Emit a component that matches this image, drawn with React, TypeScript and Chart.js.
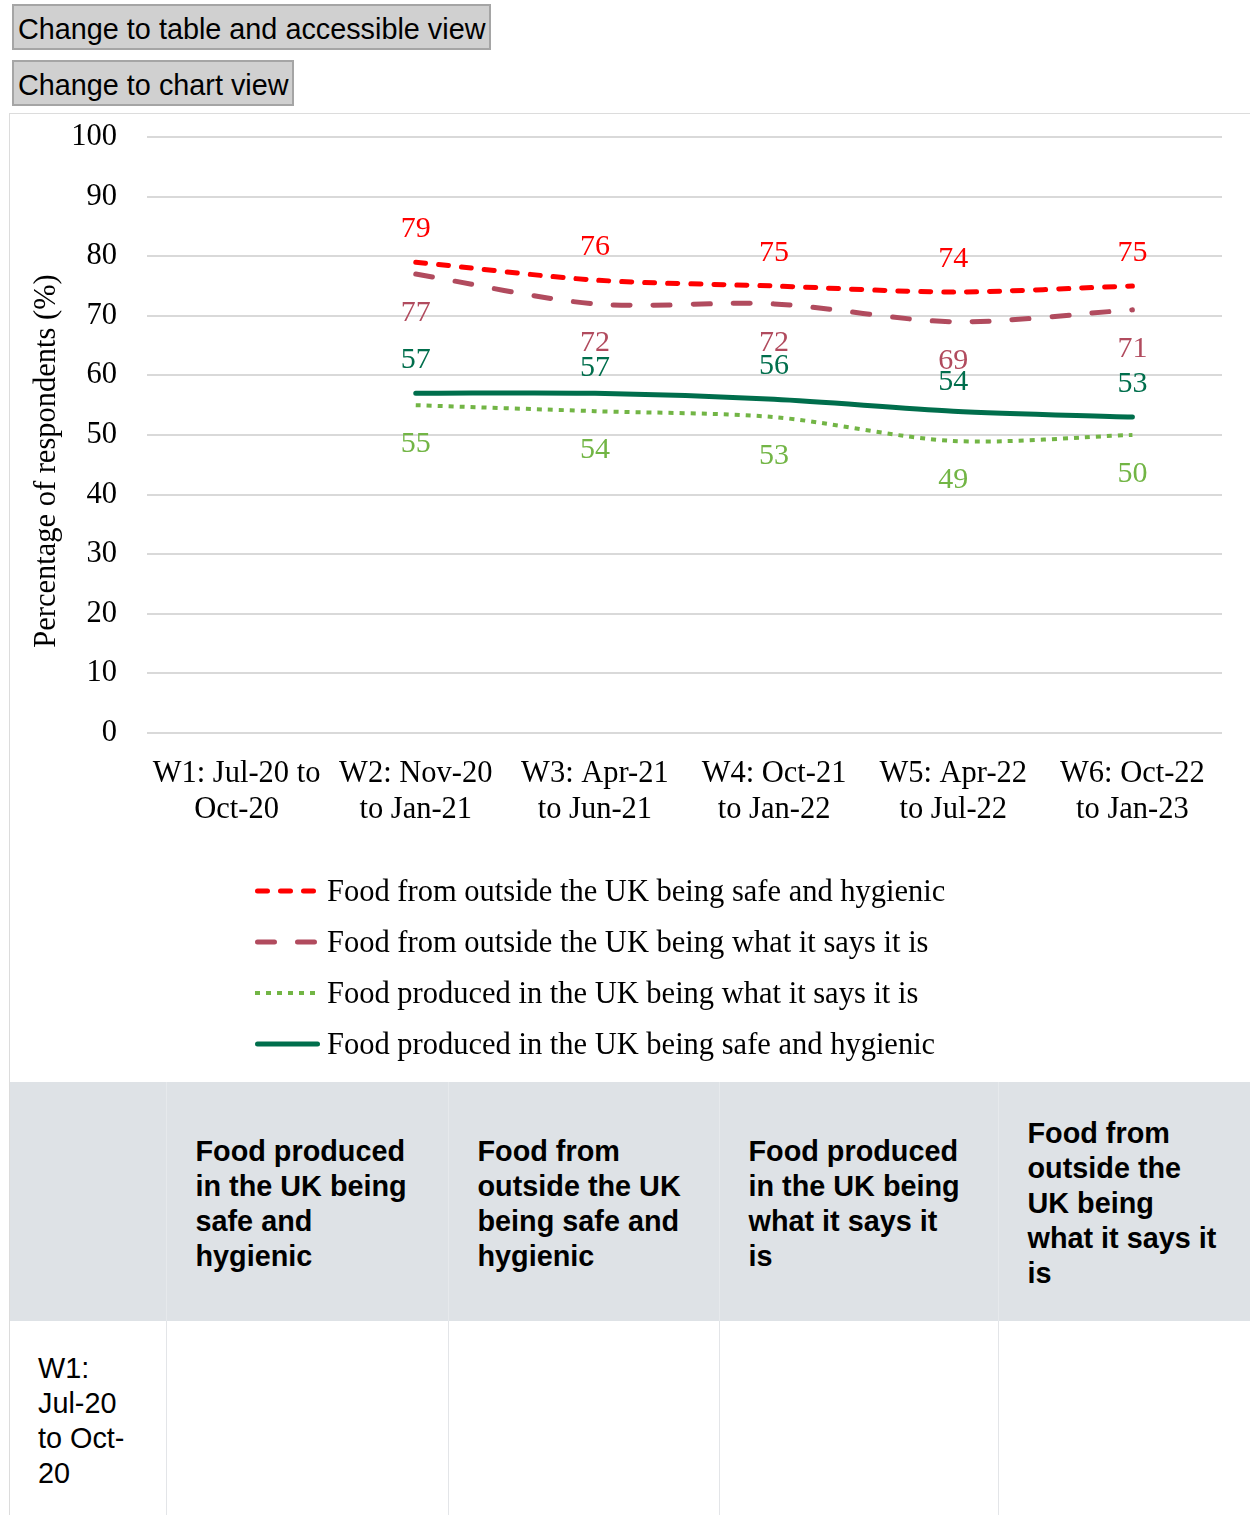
import React, { useEffect, useRef } from "react";
import { Chart, registerables } from "chart.js";
Chart.register(...registerables);

// ---------- data ----------
const categories: string[][] = [
  ["W1: Jul-20 to", "Oct-20"],
  ["W2: Nov-20", "to Jan-21"],
  ["W3: Apr-21", "to Jun-21"],
  ["W4: Oct-21", "to Jan-22"],
  ["W5: Apr-22", "to Jul-22"],
  ["W6: Oct-22", "to Jan-23"],
];
const seriesNames = [
  "Food from outside the UK being safe and hygienic",
  "Food from outside the UK being what it says it is",
  "Food produced in the UK being what it says it is",
  "Food produced in the UK being safe and hygienic",
];
const outsideSafe = [null, 79, 76, 75, 74, 75];
const outsideSays = [null, 77, 72, 72, 69, 71];
const ukSays = [null, 55, 54, 53, 49, 50];
const ukSafe = [null, 57, 57, 56, 54, 53];
const yMin = 0;
const yMax = 100;
const yStep = 10;
const yTitle = "Percentage of respondents (%)";
const buttonLabels = ["Change to table and accessible view", "Change to chart view"];
const tableHeaders = [
  "",
  "Food produced in the UK being safe and hygienic",
  "Food from outside the UK being safe and hygienic",
  "Food produced in the UK being what it says it is",
  "Food from outside the UK being what it says it is",
];
const tableRowLabels = ["W1: Jul-20 to Oct-20"];

// ---------- styles ----------
const colors = ["#ff0000", "#b14b5e", "#72b545", "#006e4c"];
const dashes = [[10, 13], [17, 23], [5, 6], []];
const caps = ["round", "round", "butt", "round"];
const widths = [5, 5, 4, 5];
const labelOffsets = [-25, 47, 47, -25];
// small per-label nudges (label collision avoidance in the original)
const labelNudges = [
  [0, 0, 0, 0, 0, 0],
  [0, 0, 0, 0, 0, 0],
  [0, 0, 0, 0, 0, 0],
  [0, 0, 8, 0, 4, 0],
];
const SERIF = '"Liberation Serif", "Times New Roman", serif';
const SANS = '"Liberation Sans", Arial, sans-serif';
const FS = 30.5;

const overlayPlugin = {
  id: "overlay",
  afterDatasetsDraw(chart: any) {
    const ctx = chart.ctx;
    ctx.save();
    // data labels
    chart.data.datasets.forEach((ds: any, i: number) => {
      const meta = chart.getDatasetMeta(i);
      ctx.font = `30px ${SERIF}`;
      ctx.fillStyle = ds.borderColor;
      ctx.textAlign = "center";
      ctx.textBaseline = "alphabetic";
      meta.data.forEach((pt: any, j: number) => {
        const v = ds.data[j];
        if (v == null) return;
        ctx.fillText(String(v), pt.x, pt.y + labelOffsets[i] + labelNudges[i][j]);
      });
    });
    // legend
    const top = 777;
    const step = 51;
    chart.data.datasets.forEach((ds: any, i: number) => {
      const y = top + i * step;
      ctx.beginPath();
      ctx.setLineDash(ds.borderDash || []);
      ctx.lineCap = ds.borderCapStyle;
      ctx.lineWidth = ds.borderWidth;
      ctx.strokeStyle = ds.borderColor;
      const inset = ds.borderCapStyle === "round" ? ds.borderWidth / 2 : 0;
      ctx.moveTo(245 + inset, y);
      ctx.lineTo(310 - inset, y);
      ctx.stroke();
      ctx.setLineDash([]);
      ctx.font = `${FS}px ${SERIF}`;
      ctx.fillStyle = "#000";
      ctx.textAlign = "left";
      ctx.textBaseline = "alphabetic";
      ctx.fillText(ds.label, 317, y + 10);
    });
    // y title
    ctx.translate(37, 347);
    ctx.rotate(-Math.PI / 2);
    ctx.font = `${FS}px ${SERIF}`;
    ctx.fillStyle = "#000";
    ctx.textAlign = "center";
    ctx.textBaseline = "middle";
    ctx.fillText(yTitle, 0, 0);
    ctx.restore();
  },
};

function LineChart() {
  const ref = useRef<HTMLCanvasElement | null>(null);
  useEffect(() => {
    if (!ref.current) return;
    const series = [outsideSafe, outsideSays, ukSays, ukSafe];
    const chart = new Chart(ref.current, {
      type: "line",
      data: {
        labels: categories as any,
        datasets: series.map((d, i) => ({
          label: seriesNames[i],
          data: d as any,
          borderColor: colors[i],
          backgroundColor: colors[i],
          borderDash: dashes[i],
          borderCapStyle: caps[i] as any,
          borderWidth: widths[i],
          pointRadius: 0,
          pointHoverRadius: 0,
          tension: 0.3,
          fill: false,
        })),
      },
      options: {
        responsive: false,
        animation: false,
        events: [],
        layout: { padding: { top: 23, right: 28, left: 0, bottom: 0 } },
        plugins: { legend: { display: false }, tooltip: { enabled: false }, title: { display: false } },
        scales: {
          x: {
            offset: true,
            grid: { display: false },
            border: { display: false },
            afterFit: (s: any) => {
              s.height = 349;
              s.paddingLeft = 0;
              s.paddingRight = 0;
            },
            ticks: {
              color: "#000",
              padding: 15,
              maxRotation: 0,
              autoSkip: false,
              font: { family: SERIF, size: FS, lineHeight: "36px" as any },
            },
          },
          y: {
            min: yMin,
            max: yMax,
            grid: { color: "#d9d9d9", lineWidth: 2, drawTicks: false },
            border: { display: false },
            afterFit: (s: any) => {
              s.width = 137;
              s.paddingTop = 0;
              s.paddingBottom = 0;
            },
            ticks: {
              stepSize: yStep,
              color: "#000",
              padding: 30,
              font: { family: SERIF, size: FS },
            },
          },
        },
      },
      plugins: [overlayPlugin],
    });
    return () => chart.destroy();
  }, []);
  return <canvas ref={ref} width={1240} height={968} style={{ display: "block", width: 1240, height: 968 }} />;
}

export default function App() {
  const btn: React.CSSProperties = {
    position: "absolute",
    left: 12,
    height: 46,
    background: "#d0d0d0",
    border: "2px solid #a5a5a5",
    fontFamily: SANS,
    fontSize: 28.8,
    padding: "4px 4px 0 4px",
    textAlign: "left",
    color: "#000",
    boxSizing: "border-box",
    whiteSpace: "nowrap",
    lineHeight: "38px",
  };
  const colW = [156, 282, 271, 279, 255];
  return (
    <div style={{ position: "relative", width: 1250, height: 1515, overflow: "hidden", background: "#fff" }}>
      <style>{`body{margin:0;overflow:hidden}`}</style>
      <button style={{ ...btn, top: 4, width: 479 }}>{buttonLabels[0]}</button>
      <button style={{ ...btn, top: 60, width: 282 }}>{buttonLabels[1]}</button>
      <div
        style={{
          position: "absolute",
          left: 9,
          top: 113,
          width: 1300,
          height: 1500,
          borderLeft: "1px solid #dcdcdc",
          borderTop: "1px solid #dcdcdc",
        }}
      >
        <LineChart />
        <table
          style={{
            borderCollapse: "collapse",
            tableLayout: "fixed",
            width: colW.reduce((a, b) => a + b, 0),
            fontFamily: SANS,
            fontSize: 28.8,
            lineHeight: "35px",
            color: "#000",
          }}
        >
          <colgroup>
            {colW.map((w, i) => (
              <col key={i} style={{ width: w }} />
            ))}
          </colgroup>
          <thead>
            <tr>
              {tableHeaders.map((h, i) => (
                <th
                  key={i}
                  style={{
                    background: "#dee2e6",
                    padding: "34px 30px 30px 29px",
                    textAlign: "left",
                    verticalAlign: "middle",
                    fontWeight: "bold",
                    borderLeft: i > 0 ? "1px solid #e6e9ec" : "none",
                  }}
                >
                  {h}
                </th>
              ))}
            </tr>
          </thead>
          <tbody>
            {tableRowLabels.map((r, ri) => (
              <tr key={ri}>
                {tableHeaders.map((_, ci) => (
                  <td
                    key={ci}
                    style={{
                      padding: "30px 28px",
                      verticalAlign: "top",
                      borderLeft: ci > 0 ? "1px solid #e3e5e8" : "none",
                      height: 300,
                    }}
                  >
                    {ci === 0 ? r : ""}
                  </td>
                ))}
              </tr>
            ))}
          </tbody>
        </table>
      </div>
    </div>
  );
}
